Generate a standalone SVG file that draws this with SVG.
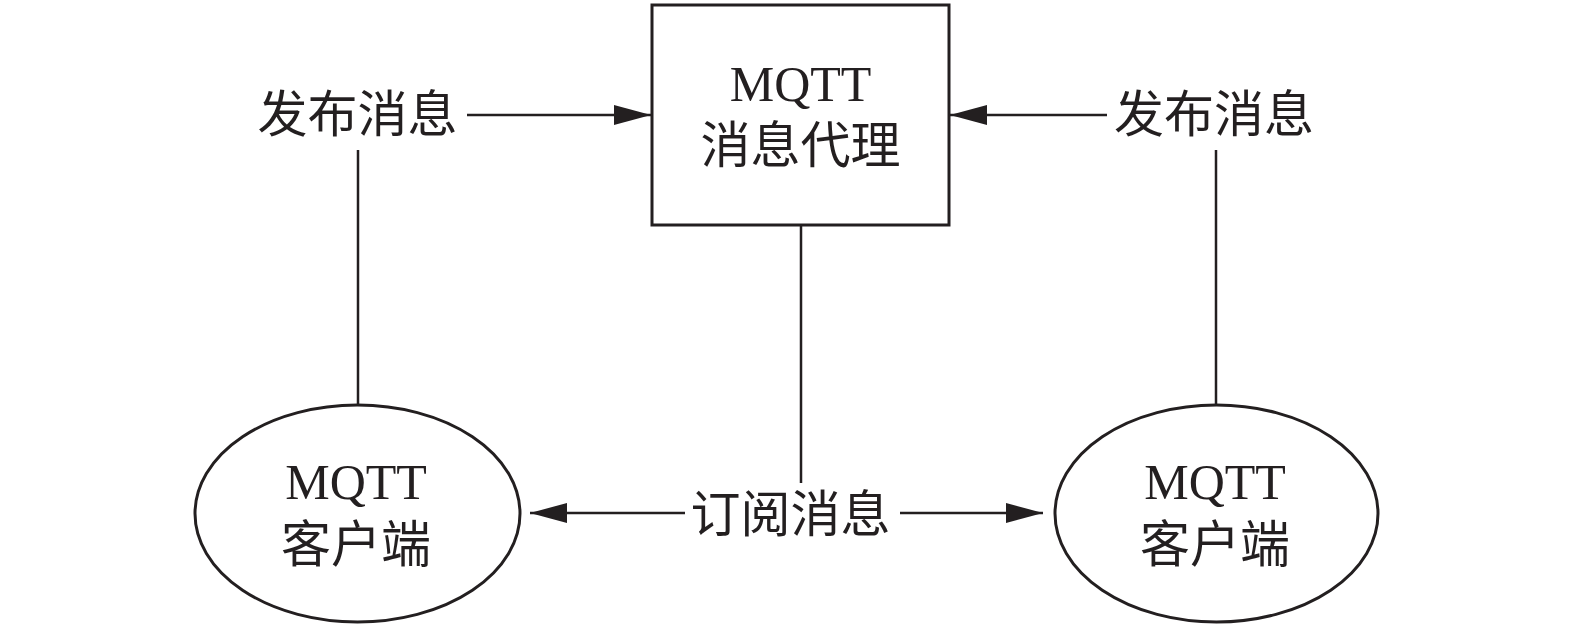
<svg xmlns="http://www.w3.org/2000/svg" width="1575" height="627" viewBox="0 0 1575 627">
<style>
.shape{fill:#fff;stroke:#231f20;stroke-width:3}
.line{stroke:#231f20;stroke-width:2.5;fill:none}
.lat{font-family:"Liberation Serif","Times New Roman",serif;font-size:50px;fill:#231f20;text-anchor:middle}
.cjk{font-family:"Noto Sans CJK SC","Noto Sans CJK JP",sans-serif;font-size:50px;fill:#231f20;text-anchor:middle}
</style>
<defs>
<marker id="ah" viewBox="0 0 37 20" refX="37" refY="10" markerWidth="37" markerHeight="20" markerUnits="userSpaceOnUse" orient="auto">
<path d="M0,0 L37,10 L0,20 Z" fill="#231f20"/>
</marker>
</defs>
<rect width="1575" height="627" fill="#fff"/>
<g id="connectors">
<line class="line" x1="467" y1="115" x2="651" y2="115" marker-end="url(#ah)"/>
<line class="line" x1="1107" y1="115" x2="950" y2="115" marker-end="url(#ah)"/>
<line class="line" x1="358" y1="150" x2="358" y2="405"/>
<line class="line" x1="1216" y1="150" x2="1216" y2="405"/>
<line class="line" x1="801" y1="225" x2="801" y2="483"/>
<line class="line" x1="685" y1="513" x2="530" y2="513" marker-end="url(#ah)"/>
<line class="line" x1="900" y1="513" x2="1043" y2="513" marker-end="url(#ah)"/>
</g>
<g id="broker">
<rect class="shape" x="652" y="5" width="297" height="220"/>
<text class="lat" x="800.5" y="101">MQTT</text>
<text class="cjk" x="800.5" y="163">消息代理</text>
</g>
<g id="client-left">
<ellipse class="shape" cx="357.5" cy="513.5" rx="162.5" ry="108.5"/>
<text class="lat" x="356" y="499">MQTT</text>
<text class="cjk" x="356" y="562">客户端</text>
</g>
<g id="client-right">
<ellipse class="shape" cx="1216.5" cy="513.5" rx="161.5" ry="108.5"/>
<text class="lat" x="1215" y="499">MQTT</text>
<text class="cjk" x="1215" y="562">客户端</text>
</g>
<g id="label-publish-left">
<text class="cjk" x="357.5" y="132">发布消息</text>
</g>
<g id="label-publish-right">
<text class="cjk" x="1214" y="132">发布消息</text>
</g>
<g id="label-subscribe">
<text class="cjk" x="790.5" y="532">订阅消息</text>
</g>
</svg>
